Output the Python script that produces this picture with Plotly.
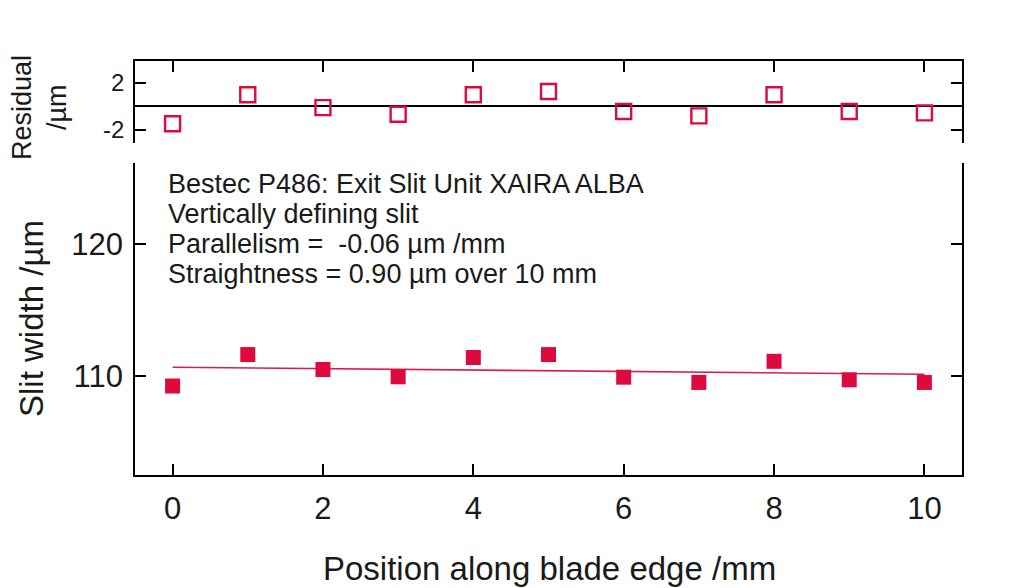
import plotly.graph_objects as go

# Data
position_mm = [0, 1, 2, 3, 4, 5, 6, 7, 8, 9, 10]
slit_width_um = [109.23, 111.61, 110.48, 109.93, 111.39, 111.61, 109.90, 109.50, 111.10, 109.70, 109.50]
residual_um = [-1.47, 0.99, -0.10, -0.66, 0.99, 1.27, -0.43, -0.80, 0.99, -0.43, -0.55]
fit_x = [0, 10]
fit_y = [110.65, 110.12]

x_ticks = [0, 2, 4, 6, 8, 10]
main_ticks = [110, 120]
res_ticks = [-2, 2]

annotation_lines = [
    "Bestec P486: Exit Slit Unit XAIRA ALBA",
    "Vertically defining slit",
    "Parallelism =  -0.06 µm /mm",
    "Straightness = 0.90 µm over 10 mm",
]

RED = "#de0a3d"
LINE_RED = "#d91e4e"
FONT = "Liberation Sans"
TXT = "#1a1a1a"

fig = go.Figure()

fig.add_trace(go.Scatter(
    x=fit_x, y=fit_y, mode="lines",
    line=dict(color=LINE_RED, width=1.6),
    xaxis="x", yaxis="y", showlegend=False, hoverinfo="skip"))
fig.add_trace(go.Scatter(
    x=position_mm, y=slit_width_um, mode="markers",
    marker=dict(symbol="square", size=15, color=RED, line=dict(width=0)),
    xaxis="x", yaxis="y", showlegend=False))
fig.add_trace(go.Scatter(
    x=position_mm, y=residual_um, mode="markers",
    marker=dict(symbol="square-open", size=15, color=RED, line=dict(width=2.4, color=RED)),
    xaxis="x2", yaxis="y2", showlegend=False))

axis_common = dict(
    showgrid=False, showline=True, linecolor="black", linewidth=1.6,
    ticks="inside", ticklen=11, tickwidth=1.6, tickcolor="black",
    zeroline=False,
)

# page has an 8px body margin, so margins are offset to place the plot area
line_y_px = [184, 214, 244, 274]
annotations = []
for txt, ypx in zip(annotation_lines, line_y_px):
    annotations.append(dict(
        text=txt, xref="paper", yref="paper",
        x=(166 - 135) / 827, y=(475 - ypx) / 414,
        xanchor="left", yanchor="middle", align="left", showarrow=False,
        font=dict(size=27, family=FONT, color=TXT)))

annotations += [
    dict(text="Slit width /µm", xref="paper", yref="paper",
         x=(31 - 135) / 827, y=(475 - 319) / 414, xanchor="center", yanchor="middle",
         textangle=-90, showarrow=False, font=dict(size=33, family=FONT, color=TXT)),
    dict(text="Residual", xref="paper", yref="paper",
         x=(22 - 135) / 827, y=(475 - 108) / 414, xanchor="center", yanchor="middle",
         textangle=-90, showarrow=False, font=dict(size=27, family=FONT, color=TXT)),
    dict(text="/µm", xref="paper", yref="paper",
         x=(57 - 135) / 827, y=(475 - 107) / 414, xanchor="center", yanchor="middle",
         textangle=-90, showarrow=False, font=dict(size=27, family=FONT, color=TXT)),
    dict(text="Position along blade edge /mm", xref="paper", yref="paper",
         x=(549 - 135) / 827, y=(475 - 568) / 414, xanchor="center", yanchor="middle",
         showarrow=False, font=dict(size=33, family=FONT, color=TXT)),
]

fig.update_layout(
    width=1024, height=588,
    margin=dict(l=127, r=70, t=53, b=121),
    paper_bgcolor="white", plot_bgcolor="white",
    font=dict(family=FONT, color=TXT),
    xaxis=dict(
        **axis_common, range=[-0.5, 10.5], tickvals=x_ticks,
        anchor="y", domain=[0, 1], mirror=False,
        tickfont=dict(size=31, family=FONT, color=TXT),
        ticklabelstandoff=5,
    ),
    yaxis=dict(
        **axis_common, range=[102.5, 126.1], tickvals=main_ticks,
        anchor="x", domain=[0, 0.7536], mirror="ticks",
        tickfont=dict(size=31, family=FONT, color=TXT),
        ticklabelstandoff=4,
    ),
    xaxis2=dict(
        **axis_common, range=[-0.5, 10.5], tickvals=x_ticks,
        anchor="y2", side="top", showticklabels=False, matches="x",
    ),
    yaxis2=dict(
        showgrid=False, showline=True, linecolor="black", linewidth=1.6,
        ticks="inside", ticklen=11, tickwidth=1.6, tickcolor="black",
        range=[-3.1, 3.85], tickvals=res_ticks, ticktext=["-2", "2"],
        anchor="x2", domain=[0.8019, 1.0], mirror="ticks",
        zeroline=True, zerolinecolor="black", zerolinewidth=1.6,
        tickfont=dict(size=24, family=FONT, color=TXT),
        ticklabelstandoff=4,
    ),
    annotations=annotations,
)

fig.write_html("out.html")
